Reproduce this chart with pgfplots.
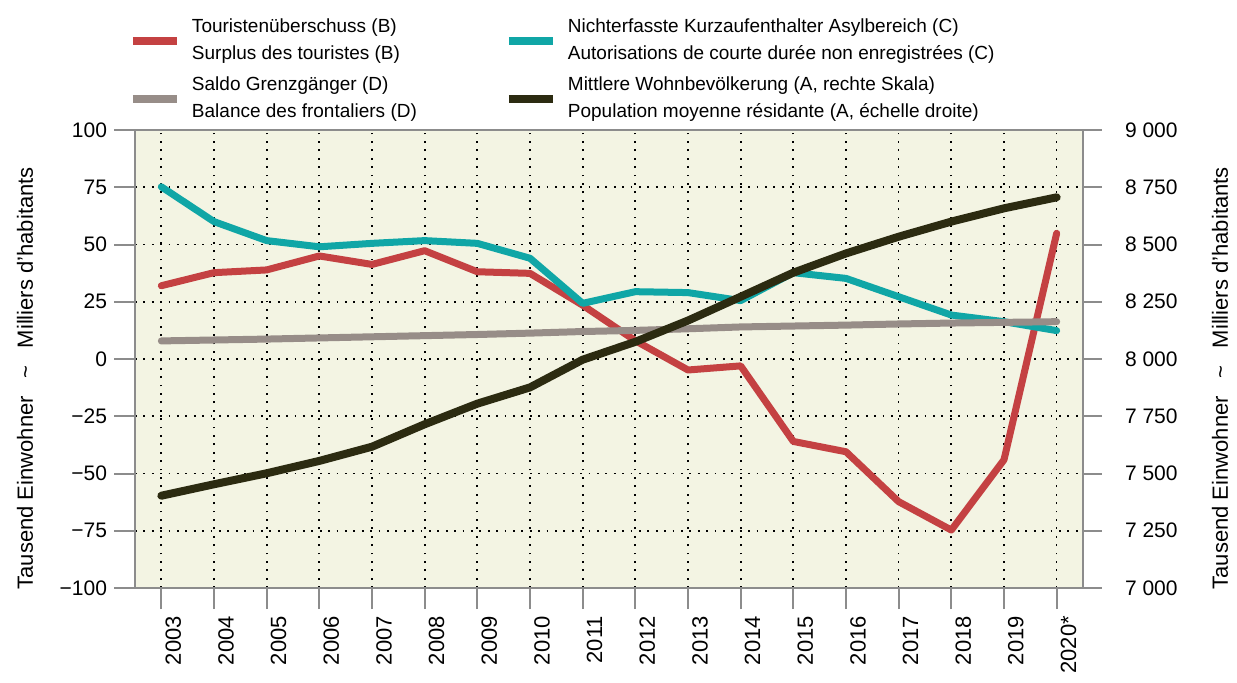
\documentclass[border=0pt]{standalone}
\usepackage{fontspec}
\setmainfont{Liberation Sans}
\usepackage{pgfplots}
\pgfplotsset{compat=1.18}
\definecolor{cB}{HTML}{C44142}
\definecolor{cC}{HTML}{10A6A6}
\definecolor{cD}{HTML}{978D88}
\definecolor{cA}{HTML}{2C2B11}
\definecolor{cBg}{HTML}{F3F4E3}
\definecolor{cAx}{HTML}{8C8C8C}
\begin{document}
\begin{tikzpicture}[x=1pt,y=1pt]
\useasboundingbox (-67.5,-47) rectangle (551,294);
\begin{axis}[
  at={(0,0)}, anchor=south west,
  scale only axis, width=474pt, height=229pt,
  xmin=2002.5, xmax=2020.5, ymin=-100, ymax=100,
  axis background/.style={fill=cBg},
  xtick={2003,2004,...,2020},
  xticklabels={2003,2004,2005,2006,2007,2008,2009,2010,2011,2012,2013,2014,2015,2016,2017,2018,2019,2020*},
  ytick={-100,-75,-50,-25,0,25,50,75,100},
  yticklabels={−100,−75,−50,−25,0,25,50,75,100},
  xtick pos=bottom, ytick pos=left,
  tick align=outside,
  major tick length=10.5pt,
  every tick/.style={draw=cAx, line width=1pt},
  axis line style={draw=cAx, line width=1pt},
  grid=major,
  major grid style={black, line width=0.9pt, dash pattern=on 0.9pt off 3.3pt},
  ticklabel style={font=\fontsize{10.5}{12}\selectfont},
  xticklabel style={rotate=90, anchor=east, yshift=-6pt, font=\fontsize{11}{13}\selectfont},
  every axis y label/.style={at={(axis description cs:-0.116,0.458)}, rotate=90, anchor=center, font=\fontsize{11}{13}\selectfont},
  ylabel={Tausend Einwohner\hspace{0.8em}\textasciitilde\hspace{0.8em}Milliers d’habitants},
]
\addplot[cB, line width=3.5pt, line cap=round, line join=round] coordinates {
(2003,32) (2004,37.7) (2005,38.9) (2006,45) (2007,41.3) (2008,47.3) (2009,38.1) (2010,37.4) (2011,23.5) (2012,8) (2013,-4.8) (2014,-3) (2015,-36) (2016,-40.5) (2017,-62.3) (2018,-74.7) (2019,-44) (2020,54.9)};
\addplot[cC, line width=3.5pt, line cap=round, line join=round] coordinates {
(2003,75.2) (2004,60) (2005,51.7) (2006,49) (2007,50.5) (2008,51.7) (2009,50.5) (2010,44) (2011,24.3) (2012,29.4) (2013,29) (2014,25.5) (2015,37.7) (2016,35.2) (2017,27.2) (2018,19.2) (2019,16.3) (2020,12.4)};
\addplot[cD, line width=3.5pt, line cap=round, line join=round] coordinates {
(2003,7.9) (2004,8.3) (2005,8.7) (2006,9.2) (2007,9.7) (2008,10.2) (2009,10.7) (2010,11.3) (2011,12.0) (2012,12.5) (2013,13.2) (2014,14.0) (2015,14.4) (2016,14.8) (2017,15.3) (2018,15.7) (2019,16.0) (2020,16.3)};
\end{axis}
\begin{axis}[
  at={(0,0)}, anchor=south west,
  scale only axis, width=474pt, height=229pt,
  xmin=2002.5, xmax=2020.5, ymin=7000, ymax=9000,
  axis x line=none, axis y line*=right,
  ytick={7000,7250,7500,7750,8000,8250,8500,8750,9000},
  yticklabels={7 000,7 250,7 500,7 750,8 000,8 250,8 500,8 750,9 000},
  tick align=outside,
  major tick length=9.5pt,
  every tick/.style={draw=cAx, line width=1pt},
  axis line style={draw=cAx, line width=1pt},
  ticklabel style={font=\fontsize{10.5}{12}\selectfont},
  yticklabel style={xshift=8pt},
  every axis y label/.style={at={(axis description cs:1.1445,0.458)}, rotate=90, anchor=center, font=\fontsize{11}{13}\selectfont},
  ylabel={Tausend Einwohner\hspace{0.8em}\textasciitilde\hspace{0.8em}Milliers d’habitants},
  legend columns=2,
  legend style={at={(0,1)}, anchor=north west, xshift=-3pt, yshift=55.5pt,
    draw=none, fill=none, inner sep=0pt, outer sep=0pt, row sep=7pt,
    font=\fontsize{9.5}{13.5}\selectfont,
    cells={anchor=west, align=left},
    nodes={inner sep=0pt},
    /tikz/every odd column/.append style={column sep=5.5pt},
    /tikz/every even column/.append style={column sep=44pt}},
  legend image code/.code={\draw[#1, line width=4pt, line cap=butt] (0pt,0pt) -- (22pt,0pt);},
]
\addlegendimage{cB}
\addlegendentry{Touristenüberschuss (B)\\Surplus des touristes (B)}
\addlegendimage{cC}
\addlegendentry{Nichterfasste Kurzaufenthalter Asylbereich (C)\\Autorisations de courte durée non enregistrées (C)}
\addlegendimage{cD}
\addlegendentry{Saldo Grenzgänger (D)\\Balance des frontaliers (D)}
\addplot[cA, line width=4pt, line cap=round, line join=round] coordinates {
(2003,7403) (2004,7453) (2005,7501) (2006,7555) (2007,7617) (2008,7715) (2009,7805) (2010,7876) (2011,7997) (2012,8075) (2013,8168) (2014,8272) (2015,8377) (2016,8461) (2017,8534) (2018,8600) (2019,8658) (2020,8706)};
\addlegendentry{Mittlere Wohnbevölkerung (A, rechte Skala)\\Population moyenne résidante (A, échelle droite)}
\end{axis}
\end{tikzpicture}
\end{document}
